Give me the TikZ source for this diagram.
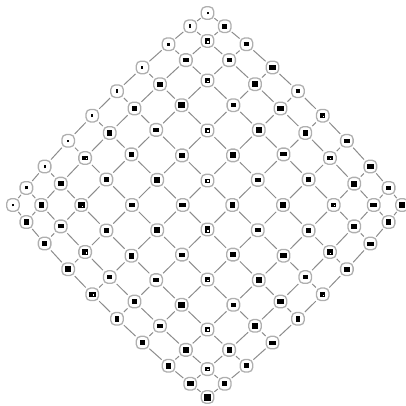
\documentclass[tikz,border=0pt]{standalone}
\usepackage{tikz}
\usetikzlibrary{backgrounds}
\definecolor{edgegray}{RGB}{140,140,140}
\definecolor{framegray}{RGB}{175,175,175}

\begin{document}
\begin{tikzpicture}[x=1pt, y=-1pt,
        latnode/.style={rectangle, draw=framegray, fill=white, line width=1.3pt, rounded corners=4.5pt, minimum size=12.5pt, inner sep=0pt},
        latedge/.style={draw=edgegray, line width=1pt}
    ]
    \useasboundingbox (0,0) rectangle (406,405);

    % grid positions, boundary rows pulled in and bowed out
    \foreach \i in {0,...,9} {
        \foreach \j in {0,...,9} {
            \pgfmathsetmacro{\gi}{{0,15,34.5,58.7,82.9,107.1,131.3,155.5,175,190}[\i]}
            \pgfmathsetmacro{\gj}{{0,15,34.5,58.7,82.9,107.1,131.3,155.5,175,190}[\j]}
            \pgfmathsetmacro{\bja}{{8,5,2.5,1,0,0,0,0,0,0}[\j]*sin(20*\i)}
            \pgfmathsetmacro{\bjb}{{8,5,2.5,1,0,0,0,0,0,0}[9-\j]*sin(20*\i)}
            \pgfmathsetmacro{\bia}{{8,5,2.5,1,0,0,0,0,0,0}[\i]*sin(20*\j)}
            \pgfmathsetmacro{\bib}{{8,5,2.5,1,0,0,0,0,0,0}[9-\i]*sin(20*\j)}
            \pgfmathsetmacro{\X}{207.5+1.024*(\gj-\gi)+0.7071*(-\bja+\bjb+\bia-\bib)}
            \pgfmathsetmacro{\Y}{13+1.0105*(\gi+\gj)+0.7071*(-\bja+\bjb-\bia+\bib)}
            % glyph size: small along the upper left edge, else 4.5--7
            \pgfmathsetmacro{\gw}{\j==0 ? 2+0.2*mod(\i,3) : (\i+\j==18 ? 7 : 4.5+0.7*mod(3*\i+5*\j,4))}
            \pgfmathsetmacro{\gh}{\j==0 ? 2.5+0.6*mod(2*\i,3) : (\i+\j==18 ? 7 : 4+0.7*mod(5*\i+2*\j,4))}
            \pgfmathtruncatemacro{\hole}{mod(7*\i+3*\j,5)==0 && \j>0 && \i+\j<18}
            \ifnum\hole=1
                \node[latnode] (v-\i-\j) at (\X,\Y) {\rule{\gw pt}{\gh pt}\llap{\color{white}\rule[1pt]{1.5pt}{1.5pt}\hspace{1.2pt}}};
            \else
                \node[latnode] (v-\i-\j) at (\X,\Y) {\rule{\gw pt}{\gh pt}};
            \fi
        }
    }

    \begin{scope}[on background layer]
        \foreach \i in {0,...,8} {
            \foreach \j in {0,...,9} {
                \pgfmathtruncatemacro{\k}{\i+1}
                \draw[latedge] (v-\i-\j) -- (v-\k-\j);
                \draw[latedge] (v-\j-\i) -- (v-\j-\k);
            }
        }
    \end{scope}
\end{tikzpicture}
\end{document}
